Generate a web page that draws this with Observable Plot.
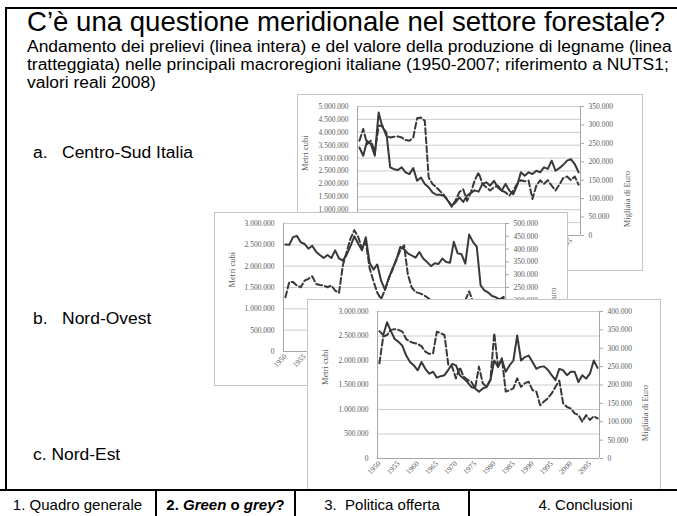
<!DOCTYPE html>
<html><head><meta charset="utf-8">
<script src="https://cdn.jsdelivr.net/npm/d3@7"></script>
<script src="https://cdn.jsdelivr.net/npm/@observablehq/plot@0.6"></script>
<style>
body{margin:0;background:#fff;}
#slide{position:relative;width:677px;height:516px;overflow:hidden;background:#fff;font-family:"Liberation Sans",Arial,sans-serif;color:#000;}
.abs{position:absolute;white-space:nowrap;transform-origin:0 0;}
#frame{position:absolute;left:5px;top:7px;width:700px;height:484px;border:2px solid #000;box-sizing:border-box;}
.panel{position:absolute;background:#fff;box-shadow:0 0 0 1px #c4c4c4;overflow:hidden;}
.panel svg{position:absolute;left:0;top:0;background:transparent;}
.cell{position:absolute;top:489px;height:40px;border:2px solid #000;box-sizing:border-box;text-align:center;font-size:15px;line-height:16px;padding-top:6px;background:#fff;white-space:nowrap;}
</style></head>
<body>
<div id="slide">
  <div id="frame"></div>
  <div class="abs" style="left:27px;top:8px;font-size:27.6px;line-height:27px;">C’è una questione meridionale nel settore forestale?</div>
  <div class="abs" style="left:27px;top:38px;font-size:16px;line-height:18px;transform:scaleX(1.09);">Andamento dei prelievi (linea intera) e del valore della produzione di legname (linea<br>tratteggiata) nelle principali macroregioni italiane (1950-2007; riferimento a NUTS1;<br>valori reali 2008)</div>
  <div class="abs" style="left:33px;top:144px;font-size:16px;line-height:18px;transform:scaleX(1.09);">a.&nbsp;&nbsp;&nbsp;Centro-Sud Italia</div>
  <div class="abs" style="left:33px;top:310px;font-size:16px;line-height:18px;transform:scaleX(1.09);">b.&nbsp;&nbsp;&nbsp;Nord-Ovest</div>
  <div class="abs" style="left:33px;top:446px;font-size:16px;line-height:18px;transform:scaleX(1.09);">c. Nord-Est</div>
  <div id="panels"></div>
  <div class="cell" style="left:-2px;width:159px;">1. Quadro generale</div>
  <div class="cell" style="left:155px;width:141px;"><b>2. <i>Green</i> o <i>grey</i>?</b></div>
  <div class="cell" style="left:294px;width:176px;">3.&nbsp; Politica offerta</div>
  <div class="cell" style="left:468px;width:235px;">4. Conclusioni</div>
</div>
<script>
const years = [1950,1951,1952,1953,1954,1955,1956,1957,1958,1959,1960,1961,1962,1963,1964,1965,1966,1967,1968,1969,1970,1971,1972,1973,1974,1975,1976,1977,1978,1979,1980,1981,1982,1983,1984,1985,1986,1987,1988,1989,1990,1991,1992,1993,1994,1995,1996,1997,1998,1999,2000,2001,2002,2003,2004,2005,2006,2007];
const tickYears = [1950,1955,1960,1965,1970,1975,1980,1985,1990,1995,2000,2005];

// Centro-Sud Italia: prelievi (metri cubi) e valore (migliaia di euro)
const csPrelievi = [3410000,3090000,3670000,3540000,3090000,4770000,4190000,4000000,2640000,2570000,
  2540000,2640000,2450000,2380000,2610000,2120000,2250000,2000000,1870000,1670000,
  1580000,1580000,1540000,1350000,1150000,1280000,1480000,1300000,1550000,1650000,
  1750000,1700000,2000000,2060000,1930000,2120000,1860000,1740000,2000000,1740000,
  1600000,1930000,2450000,2320000,2450000,2380000,2510000,2450000,2640000,2580000,
  2900000,2510000,2610000,2740000,2900000,2960000,2770000,2450000];
const csValore = [257000,289000,248000,257000,225000,298000,298000,270000,266000,268000,
  269000,266000,259000,257000,266000,318000,320000,311000,158000,140000,
  131000,120000,110000,95000,78000,95000,118000,125000,94000,117000,
  150000,171000,140000,131000,122000,131000,135000,122000,117000,108000,
  122000,140000,150000,147000,149000,99000,135000,150000,140000,150000,
  135000,122000,138000,156000,160000,150000,160000,138000];

// Nord-Ovest
const noPrelievi = [2510000,2500000,2680000,2710000,2560000,2520000,2410000,2480000,2340000,2260000,
  2190000,2260000,2190000,2370000,2180000,2130000,2270000,2470000,2700000,2530000,
  2370000,2680000,2080000,1920000,2040000,1660000,1450000,1720000,1950000,2150000,
  2450000,2400000,2300000,2250000,2200000,2330000,2180000,2100000,2000000,2070000,
  2050000,2180000,2100000,2080000,2570000,2300000,2280000,2060000,2740000,2570000,
  2450000,1550000,1430000,1380000,1300000,1270000,1220000,1280000];
const noValore = [212000,271000,271000,258000,251000,277000,284000,294000,264000,260000,
  258000,251000,258000,238000,229000,336000,389000,441000,474000,448000,
  402000,428000,325000,275000,230000,205000,240000,285000,320000,360000,
  395000,415000,300000,250000,232000,228000,222000,212000,200000,195000,
  198000,190000,195000,190000,185000,195000,190000,200000,235000,195000,
  185000,180000,175000,180000,175000,185000,195000,208000];

// Nord-Est
const nePrelievi = [2600000,2520000,2780000,2600000,2440000,2380000,2300000,2100000,1970000,1900000,
  1800000,1970000,1830000,1730000,1770000,1650000,1680000,1700000,1810000,1930000,
  1900000,1700000,1630000,1560000,1460000,1430000,1360000,1430000,1460000,1600000,
  2000000,1870000,2020000,1770000,1900000,2000000,2510000,2000000,2070000,2100000,
  1970000,1830000,1870000,1880000,1810000,1700000,1600000,1830000,1800000,1700000,
  1770000,1770000,1560000,1700000,1630000,1730000,2000000,1850000];
const neValore = [259000,332000,336000,350000,352000,350000,345000,325000,318000,314000,
  312000,305000,291000,285000,286000,345000,341000,336000,255000,250000,
  218000,248000,223000,214000,209000,191000,250000,205000,195000,214000,
  341000,250000,273000,182000,186000,191000,218000,195000,205000,209000,
  186000,182000,145000,155000,164000,177000,195000,212000,150000,140000,
  136000,123000,118000,100000,118000,105000,115000,109000];

// axis ticks
const csLeftTicks = [0,500000,1000000,1500000,2000000,2500000,3000000,3500000,4000000,4500000,5000000];
const csRightTicks = [0,50000,100000,150000,200000,250000,300000,350000];
const noLeftTicks = [0,500000,1000000,1500000,2000000,2500000,3000000];
const noRightTicks = [0,50000,100000,150000,200000,250000,300000,350000,400000,450000,500000];
const neLeftTicks = [0,500000,1000000,1500000,2000000,2500000,3000000];
const neRightTicks = [0,50000,100000,150000,200000,250000,300000,350000,400000];
const leftTitle = "Metri cubi";
const rightTitle = "Migliaia di Euro";

const itFmt = d3.formatLocale({decimal: ",", thousands: ".", grouping: [3], currency: ["", "€"]}).format(",.0f");
const grey = "#595959";

function makePanel(cfg) {
  const div = document.createElement("div");
  div.className = "panel";
  Object.assign(div.style, {left: cfg.left + "px", top: cfg.top + "px", width: cfg.width + "px", height: cfg.height + "px"});
  const solidData = years.map((year, i) => ({year, value: cfg.solid[i]}));
  const dashedData = years.map((year, i) => ({year, value: cfg.dashed[i]}));
  const xDomain = [years[0] - 0.5, years[years.length - 1] + 0.5];
  const base = {
    width: cfg.width, height: cfg.height,
    marginLeft: cfg.ml, marginRight: cfg.mr, marginTop: cfg.mt, marginBottom: cfg.mb,
    style: {background: "transparent", fontFamily: "'Liberation Serif', 'DejaVu Serif', serif", fontSize: "7.5px", color: grey, overflow: "visible"}
  };
  const leftPlot = Plot.plot({
    ...base,
    x: {domain: xDomain},
    y: {domain: [0, cfg.leftTicks[cfg.leftTicks.length - 1]]},
    marks: [
      Plot.gridY(cfg.leftTicks.slice(1), {stroke: "#c6c6c6", strokeOpacity: 1, strokeWidth: 0.9}),
      Plot.ruleY([0], {stroke: "#a6a6a6"}),
      Plot.ruleX([xDomain[0]], {stroke: "#a6a6a6"}),
      Plot.axisY(cfg.leftTicks, {anchor: "left", tickSize: 0, tickPadding: 9, tickFormat: itFmt, label: null}),
      Plot.axisX(tickYears, {anchor: "bottom", tickSize: 0, tickPadding: 4, tickRotate: -45, tickFormat: d => String(d), label: null}),
      Plot.text([leftTitle], {frameAnchor: "left", dx: cfg.ldx, rotate: -90, fontSize: 8.5, fill: grey}),
      Plot.line(solidData, {x: "year", y: "value", stroke: "#383838", strokeWidth: 2})
    ]
  });
  const rightPlot = Plot.plot({
    ...base,
    x: {domain: xDomain, axis: null},
    y: {domain: [0, cfg.rightTicks[cfg.rightTicks.length - 1]]},
    marks: [
      Plot.ruleX([xDomain[1]], {stroke: "#a6a6a6"}),
      Plot.axisY(cfg.rightTicks, {anchor: "right", tickSize: 3, tickPadding: 5, tickFormat: itFmt, label: null, stroke: "#a6a6a6"}),
      Plot.text([rightTitle], {frameAnchor: "right", dx: cfg.rdx, rotate: -90, fontSize: 8.5, fill: grey}),
      Plot.line(dashedData, {x: "year", y: "value", stroke: "#383838", strokeWidth: 2, strokeDasharray: "6,3"})
    ]
  });
  div.appendChild(leftPlot);
  div.appendChild(rightPlot);
  return div;
}

const host = document.getElementById("panels");
host.appendChild(makePanel({left: 298, top: 95, width: 344, height: 175, ml: 59, mr: 62, mt: 11, mb: 35, ldx: -52, rdx: 47,
  solid: csPrelievi, dashed: csValore, leftTicks: csLeftTicks, rightTicks: csRightTicks}));
host.appendChild(makePanel({left: 215, top: 213, width: 352, height: 172, ml: 68, mr: 62, mt: 10, mb: 34, ldx: -51, rdx: 48,
  solid: noPrelievi, dashed: noValore, leftTicks: noLeftTicks, rightTicks: noRightTicks}));
host.appendChild(makePanel({left: 308, top: 300, width: 352, height: 200, ml: 69, mr: 61, mt: 11, mb: 42, ldx: -52, rdx: 46,
  solid: nePrelievi, dashed: neValore, leftTicks: neLeftTicks, rightTicks: neRightTicks}));
</script>
</body></html>
